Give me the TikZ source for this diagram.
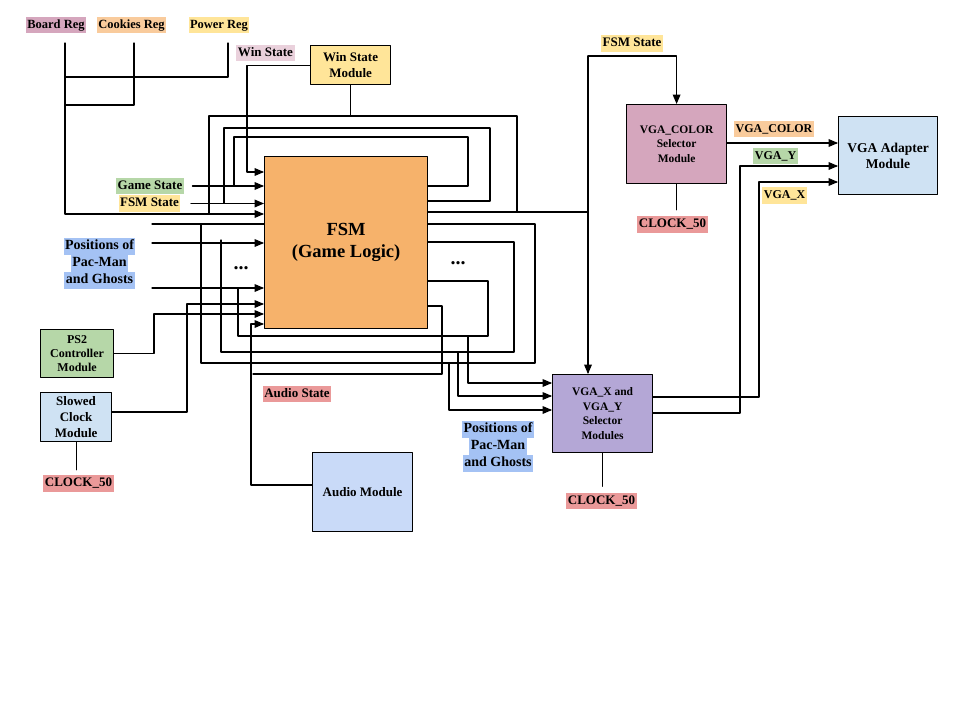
\documentclass[tikz,border=0pt]{standalone}
\usepackage{fontspec}
\setmainfont{Liberation Serif}
\usepackage{tikz}
\usetikzlibrary{arrows,positioning}
\definecolor{regpink}{HTML}{D5A6BD}
\definecolor{lightorange}{HTML}{F9CB9C}
\definecolor{lightyellow}{HTML}{FFE599}
\definecolor{lightlilac}{HTML}{EAD1DC}
\definecolor{lightgreen}{HTML}{B6D7A8}
\definecolor{posblue}{HTML}{A4C2F4}
\definecolor{lightred}{HTML}{EA9999}
\definecolor{fsmorange}{HTML}{F6B26B}
\definecolor{paleblue}{HTML}{CFE2F3}
\definecolor{audioblue}{HTML}{C9DAF8}
\definecolor{selpurple}{HTML}{B4A7D6}
\newcommand{\hl}[1]{{\setlength{\fboxsep}{0pt}\colorbox{posblue}{\strut\hspace{1.5pt}#1\hspace{1.5pt}}}}
\tikzset{
  mod/.style={draw, fill=#1, align=center, anchor=north west, inner sep=0pt,
    font=\bfseries\fontsize{11.5}{14.5}\selectfont},
  tag/.style={fill=#1, inner xsep=1.5pt, inner ysep=1.8pt, text height=9.5pt, text depth=3pt,
    font=\bfseries\fontsize{13}{15}\selectfont},
  smalltag/.style={tag=#1, font=\bfseries\fontsize{12}{14}\selectfont},
  postag/.style={align=center, inner sep=0pt, font=\bfseries\fontsize{14}{17}\selectfont},
  dots/.style={inner sep=0pt, font=\bfseries\fontsize{20}{20}\selectfont},
}
\begin{document}
\begin{tikzpicture}[line cap=round,line join=round,>=triangle 45,x=1pt,y=-1pt,line width=1.2pt]
\useasboundingbox (0,0) rectangle (960,720);
% modules
\node[mod=fsmorange, minimum width=163pt, minimum height=172pt, font=\bfseries\fontsize{18.5}{22}\selectfont] (fsm) at (264,156) {FSM\\(Game Logic)};
\node[mod=lightyellow, minimum width=80pt, minimum height=39pt, font=\bfseries\fontsize{13}{16}\selectfont] (winmod) at (310,45) {Win State\\Module};
\node[mod=regpink, minimum width=100pt, minimum height=79pt] (colormod) at (626,104) {VGA\_COLOR\\Selector\\Module};
\node[mod=paleblue, minimum width=99pt, minimum height=78pt, font=\bfseries\fontsize{13.5}{16}\selectfont] (adapter) at (838,116) {VGA Adapter\\Module};
\node[mod=selpurple, minimum width=100pt, minimum height=78pt] (vgaxy) at (552,374) {VGA\_X and\\VGA\_Y\\Selector\\Modules};
\node[mod=lightgreen, minimum width=73pt, minimum height=48pt, font=\bfseries\fontsize{12}{14}\selectfont] (ps2) at (40,329) {PS2\\Controller\\Module};
\node[mod=paleblue, minimum width=71pt, minimum height=49pt, font=\bfseries\fontsize{13}{16}\selectfont] (slowclk) at (40,392) {Slowed\\Clock\\Module};
\node[mod=audioblue, minimum width=100pt, minimum height=79pt, font=\bfseries\fontsize{13}{16}\selectfont] (audio) at (312,452) {Audio Module};
% labels
\node[tag=regpink, font=\bfseries\fontsize{12.5}{15}\selectfont] (boardreg) at (56,25) {Board Reg};
\node[tag=lightorange, font=\bfseries\fontsize{12.5}{15}\selectfont] (cookiesreg) at (131.5,25) {Cookies Reg};
\node[tag=lightyellow, font=\bfseries\fontsize{12.5}{15}\selectfont] (powerreg) at (219,25) {Power Reg};
\node[tag=lightlilac] (winst) at (265.5,53) {Win State};
\node[tag=lightgreen] (gamest) at (150,186) {Game State};
\node[tag=lightyellow] (fsmst) at (149.5,203.5) {FSM State};
\node[tag=lightyellow] (fsmsttop) at (632,43.5) {FSM State};
\node[tag=lightred] (audiost) at (297,394) {Audio State};
\node[tag=lightred] (clkslow) at (78.5,483.5) {CLOCK\_50};
\node[tag=lightred] (clkcolor) at (672.5,224.5) {CLOCK\_50};
\node[tag=lightred] (clkxy) at (601.5,501) {CLOCK\_50};
\node[smalltag=lightorange] (colorlbl) at (774,129) {VGA\_COLOR};
\node[smalltag=lightgreen] (ylbl) at (775.5,156) {VGA\_Y};
\node[smalltag=lightyellow] (xlbl) at (784.5,195.5) {VGA\_X};
\node[postag] (posleft) at (99.5,263) {\hl{Positions of}\\\hl{Pac-Man}\\\hl{and Ghosts}};
\node[postag] (posright) at (498,446) {\hl{Positions of}\\\hl{Pac-Man}\\\hl{and Ghosts}};
\node[dots] (dotsleft) at (241,268) {...};
\node[dots] (dotsright) at (458,263) {...};
% register inputs
\draw[->] (65,43) |- (fsm.west |- 0,214);
\draw (134,43) |- (65,105);
\draw (228,43) |- (65,77);
\draw[->] (winmod.west) -| (247,172) -- (fsm.west |- 0,172);
\draw[->] ([xshift=8pt]gamest.east) -- (fsm.west |- gamest.east);
\draw[->] ([xshift=10pt]fsmst.east) -- (fsm.west |- fsmst.east);
% feedback loops round the FSM
\draw (fsm.east |- 0,186) -| (468,137) -| (234,186);
\draw (fsm.east |- 0,201) -| (490,128) -| (224,203);
\draw (winmod.south) -- (winmod.south |- 0,116);
\draw (fsm.east |- 0,212) -- (588,212);
\draw (517,212) |- (209,116) -- (209,214);
\draw (152,224) -- (fsm.west |- 0,224);
\draw[->] (152,243) -- (fsm.west |- 0,243);
\draw[->] (152,288) -- (fsm.west |- 0,288);
\draw (fsm.east |- 0,224) -| (535,363) -| (201,225);
\draw (fsm.east |- 0,242) -| (514,352) -| (221,240);
\draw (fsm.east |- 0,281) -| (488,336) -| (238,288);
\draw (fsm.east |- 0,306) -| (442,374) -- (253,374);
% side modules
\draw[->] (slowclk.east |- 0,412) -| (187,304) -- (fsm.west |- 0,304);
\draw[->] (ps2.east) -| (154,314) -- (fsm.west |- 0,314);
\draw[->] (audio.west |- 0,485) -| (251,324) -- (fsm.west |- 0,324);
\draw (slowclk.south) -- ([yshift=5pt]clkslow.north -| slowclk.south);
% VGA side
\coordinate (fsmtap) at (588,56);
\draw[->] (fsmtap) -| (colormod.north);
\draw[->] (fsmtap) -- (vgaxy.north -| fsmtap);
\draw[->] (468,336) |- (vgaxy.west |- 0,383);
\draw[->] (458,352) |- (vgaxy.west |- 0,396);
\draw[->] (449,363) |- (vgaxy.west |- 0,410);
\draw[->] (vgaxy.east |- 0,397) -| (759,182) -- (adapter.west |- 0,182);
\draw[->] (vgaxy.east |- 0,413) -| (740,166) -- (adapter.west |- 0,166);
\draw[->] (colormod.east |- 0,143) -- (adapter.west |- 0,143);
\draw (colormod.south) -- ([yshift=6pt]clkcolor.north -| colormod.south);
\draw (vgaxy.south) -- ([yshift=6pt]clkxy.north -| vgaxy.south);
\end{tikzpicture}
\end{document}
